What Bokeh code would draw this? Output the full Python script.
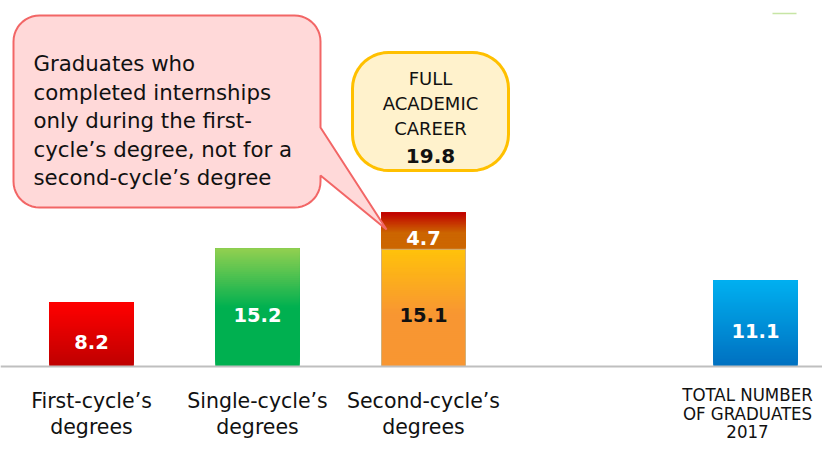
import numpy as np
from bokeh.plotting import figure
from bokeh.models import ColumnDataSource, Span
from bokeh.core.properties import value
from bokeh.embed import file_html
from bokeh.resources import INLINE

# ---------------- data ----------------
category_lines = [["First-cycle’s", "degrees"],
                  ["Single-cycle’s", "degrees"],
                  ["Second-cycle’s", "degrees"],
                  ["TOTAL NUMBER", "OF GRADUATES", "2017"]]
category_pos = [0, 1, 2, 4]
bar_values = [8.2, 15.2, 15.1, 11.1]
extra_value = 4.7          # second-cycle: internships only in first cycle
full_career = 19.8
callout_lines = ["Graduates who", "completed internships", "only during the first-",
                 "cycle’s degree, not for a", "second-cycle’s degree"]
full_lines = ["FULL", "ACADEMIC", "CAREER"]

# ---------------- layout helpers (pixel -> data) ----------------
W, H = 822, 443
X0, XS = 91.0, 166.0      # px of category 0, px per category
Y0, YS = 366.0, 7.76      # px of baseline, px per unit
BAR_W = 84 / XS

def dx(sx):
    return (sx - X0) / XS

def dy(sy):
    return (Y0 - sy) / YS

p = figure(width=W, height=H, output_backend="svg", toolbar_location=None,
           x_range=(dx(0), dx(W)), y_range=(dy(H), dy(0)),
           min_border=0, outline_line_color=None)
p.axis.visible = False
p.grid.visible = False

def interp(stops, t):
    for (t0, c0), (t1, c1) in zip(stops[:-1], stops[1:]):
        if t0 <= t <= t1:
            f = 0 if t1 == t0 else (t - t0) / (t1 - t0)
            c = [int(round(a + (b - a) * f)) for a, b in zip(c0, c1)]
            return "#%02x%02x%02x" % tuple(c)
    return "#%02x%02x%02x" % tuple(stops[-1][1])

def gradient_bar(x, bottom, height, stops, n=60):
    lefts, rights, bots, tops, cols = [], [], [], [], []
    for i in range(n):
        lefts.append(x - BAR_W / 2)
        rights.append(x + BAR_W / 2)
        bots.append(bottom + height * i / n)
        tops.append(bottom + height)
        cols.append(interp(stops, (i + 0.5) / n))
    src = ColumnDataSource(dict(left=lefts, right=rights, bottom=bots, top=tops, color=cols))
    p.quad(left="left", right="right", bottom="bottom", top="top", fill_color="color",
           line_color=None, source=src)

grad_first = [(0, (190, 0, 0)), (1, (255, 0, 0))]
grad_single = [(0, (0, 176, 80)), (0.5, (0, 176, 80)), (1, (146, 208, 80))]
grad_second = [(0, (248, 150, 50)), (0.45, (248, 150, 50)), (1, (255, 194, 10))]
grad_extra = [(0, (204, 102, 0)), (0.45, (204, 102, 0)), (1, (192, 0, 0))]
grad_total = [(0, (0, 112, 192)), (1, (0, 176, 240))]
grads = [grad_first, grad_single, grad_second, grad_total]

# base bars (data) then gradient overlay
p.vbar(x=category_pos, top=bar_values, bottom=0, width=BAR_W,
       fill_color=["#d00000", "#00b050", "#f99a30", "#0090d8"], line_color=None)
for x, v, g in zip(category_pos, bar_values, grads):
    gradient_bar(x, 0, v, g)
p.vbar(x=[category_pos[2]], top=[bar_values[2] + extra_value], bottom=[bar_values[2]],
       width=BAR_W, fill_color="#cc6600", line_color=None)
gradient_bar(category_pos[2], bar_values[2], extra_value, grad_extra)
p.vbar(x=[category_pos[2]], top=[bar_values[2]], bottom=[0], width=BAR_W,
       fill_alpha=0, line_color="#d2b07a", line_width=1)

# baseline
p.add_layout(Span(location=0, dimension="width", line_color="#bfbfbf", line_width=2))

# small stray mark at top right
p.segment(x0=[dx(772)], y0=[dy(13)], x1=[dx(796)], y1=[dy(13)],
          line_color="#b9df8f", line_width=1.5, line_alpha=0.8)

SANS = value("DejaVu Sans")
COND = value("DejaVu Sans Condensed")
CAP_OFF = 7.3 / YS     # cap-centre -> baseline, data units

# value labels (centred in each bar segment)
lab_x = category_pos + [category_pos[2]]
lab_y = [v / 2 - CAP_OFF for v in bar_values] + [bar_values[2] + extra_value / 2 - CAP_OFF]
lab_t = [f"{v:.1f}" for v in bar_values] + [f"{extra_value:.1f}"]
lab_c = ["white", "white", "#111111", "white", "white"]
p.text(x=lab_x, y=lab_y, text=lab_t, text_color=lab_c, text_font=SANS,
       text_font_size="19.5px", text_font_style="bold", text_align="center",
       text_baseline="alphabetic")

# category labels
cx, cy, ct = [], [], []
for pos, lines in zip(category_pos[:3], category_lines[:3]):
    for j, line in enumerate(lines):
        cx.append(pos)
        cy.append(dy(400 + 26 * j))
        ct.append(line)
p.text(x=cx, y=cy, text=ct, text_color="#111111", text_font=SANS,
       text_font_size="20.5px", text_align="center", text_baseline="alphabetic")
tot_lines = category_lines[3]
p.text(x=[category_pos[3] - dx(757) + dx(749)] * len(tot_lines),
       y=[dy(394 + 18.5 * j) for j in range(len(tot_lines))],
       text=tot_lines, text_color="#111111", text_font=COND,
       text_font_size="18.5px", text_align="center", text_baseline="alphabetic")

# rounded callout shapes
def rounded(l, t, r, b, rad, notch=None, n=12):
    pts = []
    def arc(cxp, cyp, a0, a1):
        for a in np.linspace(np.radians(a0), np.radians(a1), n):
            pts.append((cxp + rad * np.cos(a), cyp + rad * np.sin(a)))
    arc(r - rad, t + rad, -90, 0)
    if notch:
        pts.extend(notch)
    arc(r - rad, b - rad, 0, 90)
    arc(l + rad, b - rad, 90, 180)
    arc(l + rad, t + rad, 180, 270)
    return [dx(a) for a, _ in pts], [dy(c) for _, c in pts]

xs1, ys1 = rounded(13, 15, 320, 207, 26, notch=[(320, 127), (386, 229), (320, 175)])
p.patch(xs1, ys1, fill_color="#ffd9d9", line_color="#f26666", line_width=2)
p.text(x=[dx(33)] * len(callout_lines), y=[dy(63 + 28.6 * i) for i in range(len(callout_lines))],
       text=callout_lines, text_font=SANS, text_font_size="21.3px",
       text_color="#111111", text_align="left", text_baseline="alphabetic")

xs2, ys2 = rounded(352, 52, 508, 170, 36)
p.patch(xs2, ys2, fill_color="#fff2cc", line_color="#ffc000", line_width=3)
p.text(x=[dx(430)] * 3, y=[dy(78 + 25 * i) for i in range(3)], text=full_lines,
       text_font=SANS, text_font_size="18px", text_color="#111111",
       text_align="center", text_baseline="alphabetic")
p.text(x=[dx(430)], y=[dy(155)], text=[f"{full_career:.1f}"], text_font=SANS,
       text_font_size="20px", text_font_style="bold", text_color="#111111",
       text_align="center", text_baseline="alphabetic")

open("out.html", "w").write(file_html(p, INLINE))
